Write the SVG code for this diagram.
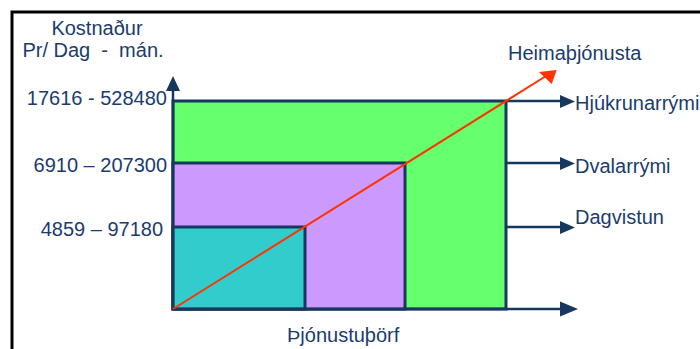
<svg xmlns="http://www.w3.org/2000/svg" width="700" height="349" viewBox="0 0 700 349">
<defs>
<style>
text{font-family:"Liberation Sans",Arial,sans-serif;font-size:20px;fill:#1A3C6E}
.bx{stroke:#17375E;stroke-width:3}
.ax{stroke:#17375E;stroke-width:2.5;fill:none}
.hd{fill:#17375E}
</style>
</defs>
<rect width="700" height="349" fill="#fff"/>
<path d="M12,349 V12 H700" fill="none" stroke="#000" stroke-width="3"/>
<g id="hjukrunarrymi-zone"><rect class="bx" x="173" y="101" width="333" height="208" fill="#66FF6E"/></g>
<g id="dvalarrymi-zone"><rect class="bx" x="173" y="163" width="232" height="146" fill="#CC99FF"/></g>
<g id="dagvistun-zone"><rect class="bx" x="173" y="227" width="132" height="82" fill="#33CCCC"/></g>
<g id="connectors">
<line class="ax" x1="173" y1="309" x2="173" y2="88"/>
<polygon class="hd" points="166,91 180,91 173,76"/>
<line class="ax" x1="173" y1="309" x2="562" y2="309"/>
<polygon class="hd" points="560,301.5 578,309 560,316.5"/>
<line class="ax" x1="506" y1="101" x2="562" y2="101"/>
<polygon class="hd" points="560,95 575,101.5 560,108"/>
<line class="ax" x1="506" y1="163" x2="562" y2="163"/>
<polygon class="hd" points="560,157 575,163.5 560,170"/>
<line class="ax" x1="506" y1="227" x2="562" y2="227"/>
<polygon class="hd" points="560,221 575,227.5 560,234"/>
<line x1="173" y1="309" x2="546" y2="76" stroke="#FF3300" stroke-width="2"/>
<polygon points="539,72 556.7,70 551.7,84" fill="#FF3300"/>
</g>
<g id="y-title"><text x="97" y="35" text-anchor="middle">Kostnaður</text><text x="93" y="57" text-anchor="middle">Pr/ Dag &#160;- &#160;mán.</text></g>
<g id="y-labels">
<text x="167" y="105" text-anchor="end">17616 - 528480</text>
<text x="167" y="172" text-anchor="end">6910 – 207300</text>
<text x="163" y="236" text-anchor="end">4859 – 97180</text>
</g>
<g id="series-labels">
<text x="508" y="60">Heimaþjónusta</text>
<text x="575" y="110">Hjúkrunarrými</text>
<text x="575" y="173">Dvalarrými</text>
<text x="575" y="224">Dagvistun</text>
</g>
<g id="x-title"><text x="287" y="342">Þjónustuþörf</text></g>
</svg>
